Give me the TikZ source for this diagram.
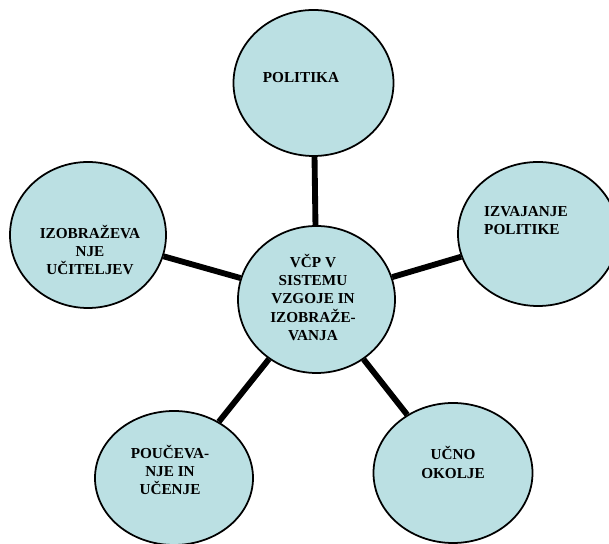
\documentclass[tikz,border=0pt]{standalone}
\usepackage{fontspec}
\setmainfont{Liberation Serif}
\usepackage{xcolor}
\usepackage{tikz}
\usetikzlibrary{positioning,shapes.geometric}

\definecolor{circfill}{RGB}{187,224,227}

\begin{document}
\begin{tikzpicture}[
  circ/.style={ellipse, draw=black, line width=1.5pt, fill=circfill, inner sep=0pt},
  link/.style={line width=5pt, black},
  txt/.style={font=\fontsize{13}{15.6}\selectfont\bfseries, align=center, inner sep=0pt}
]
\clip (0,0) rectangle (18.27,16.32);
\useasboundingbox (0,0) rectangle (18.27,16.32);

% Circles
\node[circ, minimum width=4.8cm, minimum height=4.38cm] (pol) at (9.405,13.83) {};
\node[circ, minimum width=4.8cm, minimum height=4.32cm] (izv) at (16.14,9.30) {};
\node[circ, minimum width=4.68cm, minimum height=4.38cm] (izo) at (2.64,9.27) {};
\node[circ, minimum width=4.71cm, minimum height=4.41cm] (vcp) at (9.495,7.335) {};
\node[circ, minimum width=4.74cm, minimum height=4.02cm] (pou) at (5.22,1.98) {};
\node[circ, minimum width=4.77cm, minimum height=4.2cm] (ucn) at (13.59,2.13) {};

% Links
\draw[link] (pol) -- (vcp);
\draw[link] (izo) -- (vcp);
\draw[link] (izv) -- (vcp);
\draw[link] (pou) -- (vcp);
\draw[link] (ucn) -- (vcp);

% Labels
\node[txt] (polt) at (9.03,13.98) {POLITIKA};
\node[txt, anchor=west, align=left] (izvt) at (14.52,9.70) {IZVAJANJE\\POLITIKE};
\node[txt] (izot) at (2.70,8.82) {IZOBRAŽEVA\\NJE\\UČITELJEV};
\node[txt] (vcpt) at (9.39,7.395) {VČP V\\SISTEMU\\VZGOJE IN\\IZOBRAŽE-\\VANJA};
\node[txt] (pout) at (5.10,2.22) {POUČEVA-\\NJE IN\\UČENJE};
\node[txt] (ucnt) at (13.59,2.445) {UČNO\\OKOLJE};
\end{tikzpicture}
\end{document}
